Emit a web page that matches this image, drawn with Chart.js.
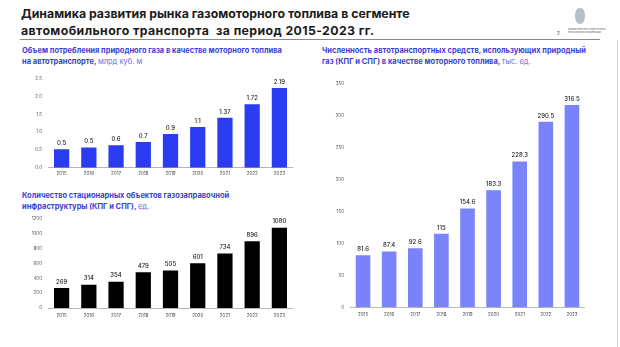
<!DOCTYPE html>
<html>
<head>
<meta charset="utf-8">
<script src="https://cdn.jsdelivr.net/npm/chart.js@4"></script>
<style>
  body { margin: 0; width: 620px; height: 347px; background: #fff; position: relative; overflow: hidden; font-family: "Inter", "Noto Sans", sans-serif; }
  .title { position: absolute; left: 21px; top: 6px; font-size: 12.3px; font-weight: 700; color: #1b1b1b; line-height: 16.5px; white-space: nowrap; }
  .title span { letter-spacing: 0.4px; }
  .rule { position: absolute; left: 20px; top: 38.5px; width: 580px; height: 1px; background: #8a8a8a; }
  .sub { position: absolute; font-size: 7.5px; font-weight: 700; color: #3a3ed8; line-height: 11px; white-space: nowrap; }
  .sub span { font-weight: 400; color: #6a6ee0; }
  .box { position: absolute; }
  .edge { position: absolute; left: 617px; top: 40px; width: 1px; height: 307px; background: #d0d0d0; }
  .page { position: absolute; left: 557px; top: 31px; font-size: 4.5px; color: #333; }
  .logo { position: absolute; left: 568px; top: 29px; font-size: 2.4px; line-height: 2.8px; color: #555; white-space: nowrap; }
  .emblem { position: absolute; left: 575px; top: 8px; width: 10px; height: 16px; background: #7a86a0; border-radius: 45% 45% 50% 50%; opacity: 0.55; }
</style>
</head>
<body>
<div class="title">Динамика развития рынка газомоторного топлива в сегменте<br><span>автомобильного транспорта&nbsp; за период 2015-2023 гг.</span></div>
<div class="rule"></div>
<div class="emblem"></div>
<div class="logo">МИНИСТЕРСТВО ЭНЕРГЕТИКИ<br>РОССИЙСКОЙ ФЕДЕРАЦИИ</div>
<div class="page">2</div>
<div class="edge"></div>

<div class="sub" style="left:22px; top:45px;">Объем потребления природного газа в качестве моторного топлива<br>на автотранспорте, <span>млрд куб. м</span></div>
<div class="sub" style="left:322px; top:45px;">Численность автотранспортных средств, использующих природный<br>газ (КПГ и СПГ) в качестве моторного топлива, <span>тыс. ед.</span></div>
<div class="sub" style="left:22px; top:189.5px;">Количество стационарных объектов газозаправочной<br>инфраструктуры (КПГ и СПГ), <span>ед.</span></div>

<div class="box" style="left:30px; top:70px; width:263px; height:110px;"><canvas id="gasChart"></canvas></div>
<div class="box" style="left:30px; top:210px; width:263px; height:120px;"><canvas id="stationChart"></canvas></div>
<div class="box" style="left:330px; top:75px; width:255px; height:250px;"><canvas id="vehicleChart"></canvas></div>

<script>
// years shared by all three charts
const years = ['2015', '2016', '2017', '2018', '2019', '2020', '2021', '2022', '2023'];

// gas consumption, bln m3 (bar heights) and the labels printed over bars
const gasValues = [0.52, 0.57, 0.63, 0.72, 0.95, 1.14, 1.40, 1.78, 2.24];
const gasLabels = ['0.5', '0.5', '0.6', '0.7', '0.9', '1.1', '1.37', '1.72', '2.19'];

// filling stations, units
const stationValues = [269, 314, 354, 479, 505, 601, 734, 896, 1080];

// vehicles on natural gas, thousand units
const vehicleValues = [81.6, 87.4, 92.6, 115, 154.6, 183.3, 228.3, 290.5, 316.5];

// draws the number above each bar
const valueLabels = {
    id: 'valueLabels',
    afterDatasetsDraw(chart, args, opts) {
        const ctx = chart.ctx;
        const meta = chart.getDatasetMeta(0);
        ctx.save();
        ctx.font = '500 6px Inter, sans-serif';
        ctx.fillStyle = '#222';
        ctx.textAlign = 'center';
        ctx.textBaseline = 'bottom';
        meta.data.forEach((bar, i) => {
            ctx.fillText(opts.labels[i], bar.x, bar.y - 3);
        });
        ctx.restore();
    }
};

function makeChart(id, values, labels, color, yMax, step, fmt, yWidth, xHeight, xPad) {
    return new Chart(document.getElementById(id), {
        type: 'bar',
        data: {
            labels: years,
            datasets: [{
                data: values,
                backgroundColor: color,
                categoryPercentage: 0.56,
                barPercentage: 1
            }]
        },
        options: {
            responsive: true,
            maintainAspectRatio: false,
            animation: false,
            layout: { padding: { top: 6, right: 0, left: 0, bottom: 0 } },
            plugins: {
                legend: { display: false },
                tooltip: { enabled: false },
                valueLabels: { labels: labels }
            },
            scales: {
                x: {
                    grid: { display: false, drawTicks: false },
                    border: { display: true, color: '#b5b5b5', width: 1 },
                    ticks: { color: '#444', font: { size: 4.5, family: 'Inter' }, padding: xPad, maxRotation: 0 },
                    afterFit: s => { s.height = xHeight; }
                },
                y: {
                    min: 0,
                    max: yMax,
                    grid: { display: false, drawTicks: false },
                    border: { display: false },
                    ticks: { stepSize: step, color: '#555', font: { size: 4.5, family: 'Inter' }, padding: 6, callback: fmt },
                    afterFit: s => { s.width = yWidth; }
                }
            }
        },
        plugins: [valueLabels]
    });
}

makeChart('gasChart', gasValues, gasLabels, '#2a3bf0', 2.5, 0.5, v => v.toFixed(1), 18, 12.3, 3);
makeChart('stationChart', stationValues, stationValues.map(String), '#000000', 1200, 200, v => v, 18, 22, 4.5);
makeChart('vehicleChart', vehicleValues, vehicleValues.map(String), '#7b83fa', 350, 50, v => v, 20, 17.7, 4.5);
</script>
</body>
</html>
